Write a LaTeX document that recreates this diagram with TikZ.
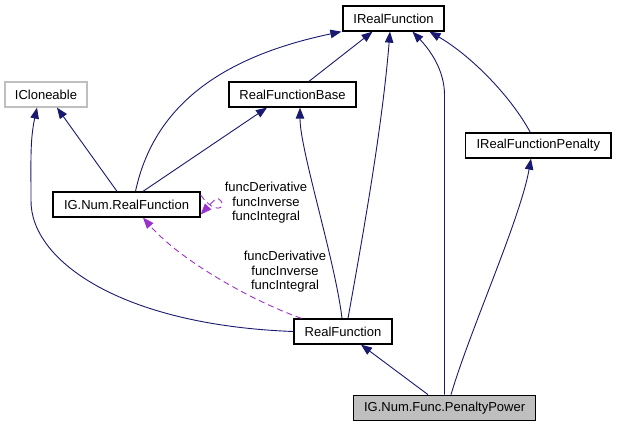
\documentclass[tikz,border=0pt]{standalone}
\usepackage{fontspec}
\setmainfont{Liberation Sans}
\usetikzlibrary{arrows.meta,calc}
\definecolor{edgeblue}{RGB}{25,25,112}
\definecolor{edgepurple}{RGB}{154,50,205}
\definecolor{boxgray}{RGB}{191,191,191}
\begin{document}
\begin{tikzpicture}[x=1pt,y=-1pt,
  cls/.style={draw=black,line width=1.3pt,fill=white,inner sep=0pt,minimum height=25pt,font=\fontsize{13}{14.5}\selectfont},
  inh/.style={draw=edgeblue,line width=0.9pt,-{Triangle[length=11pt,width=8.5pt]}},
  use/.style={draw=edgepurple,line width=0.9pt,dash pattern=on 6pt off 4pt,-{Triangle[length=11pt,width=8.5pt,fill=edgepurple]}},
  lbl/.style={align=center,inner sep=0pt,font=\fontsize{13}{14.5}\selectfont}]
\useasboundingbox (0,0) rectangle (617,427);
\fill[white] (0,0) rectangle (617,427);
\node[cls,minimum width=101pt] (irf) at (393.5,18.5) {IRealFunction};
\node[cls,draw=boxgray,minimum width=82pt] (icl) at (46,94.5) {ICloneable};
\node[cls,minimum width=127pt] (rfb) at (292.5,94.5) {RealFunctionBase};
\node[cls,minimum width=145.5pt] (irfp) at (538.3,145.5) {IRealFunctionPenalty};
\node[cls,minimum width=147pt] (ignrf) at (126.5,204.5) {IG.Num.RealFunction};
\node[cls,minimum width=98pt] (rf) at (343,331.5) {RealFunction};
\node[cls,fill=boxgray,minimum width=182pt] (pp) at (444.6,407.8) {IG.Num.Func.PenaltyPower};
% inheritance edges
\draw[inh] ([xshift=9pt]ignrf.north) .. controls (155,100) and (230,55) .. ([xshift=-1pt]irf.south west);
\draw[inh] ([xshift=16.5pt]rfb.north) -- ([xshift=-21pt]irf.south);
\draw[inh] ([xshift=5pt]rf.north) .. controls (362,240) and (382,130) .. ([xshift=-3.5pt]irf.south);
\draw[inh] ([xshift=-0.1pt]pp.north) -- (444.5,95) .. controls (444.5,70) and (430,50) .. ([xshift=19pt]irf.south);
\draw[inh] ([xshift=-8pt]irfp.north) .. controls (510,95) and (470,55) .. ([xshift=36pt]irf.south);
\draw[inh] ([xshift=-9.5pt]ignrf.north) -- ([xshift=11pt]icl.south);
\draw[inh] (rf.west) .. controls (120,325) and (30,260) .. (31,200) .. controls (31,160) and (30,140) .. ([xshift=-9pt]icl.south);
\draw[inh] ([xshift=16.5pt]ignrf.north) -- ([xshift=-25.5pt]rfb.south);
\draw[inh] ([xshift=-1pt]rf.north) .. controls (335,260) and (300,150) .. ([xshift=7.5pt]rfb.south);
\draw[inh] ([xshift=-16.6pt]pp.north) -- ([xshift=18pt]rf.south);
\draw[inh] ([xshift=6.4pt]pp.north) .. controls (470,330) and (520,220) .. ([xshift=-7.3pt]irfp.south);
% usage edges
\draw[use] ([yshift=9.5pt]ignrf.east) .. controls (216,216) and (226,207) .. (221,201) .. controls (217,197) .. ([yshift=-10pt]ignrf.east);
\node[lbl] (l1) at (266,203) {funcDerivative\\funcInverse\\funcIntegral};
\draw[use] ([xshift=8pt]rf.north west) .. controls (250,300) and (180,260) .. ([xshift=16.5pt]ignrf.south);
\node[lbl] (l2) at (285,272) {funcDerivative\\funcInverse\\funcIntegral};
\end{tikzpicture}
\end{document}
